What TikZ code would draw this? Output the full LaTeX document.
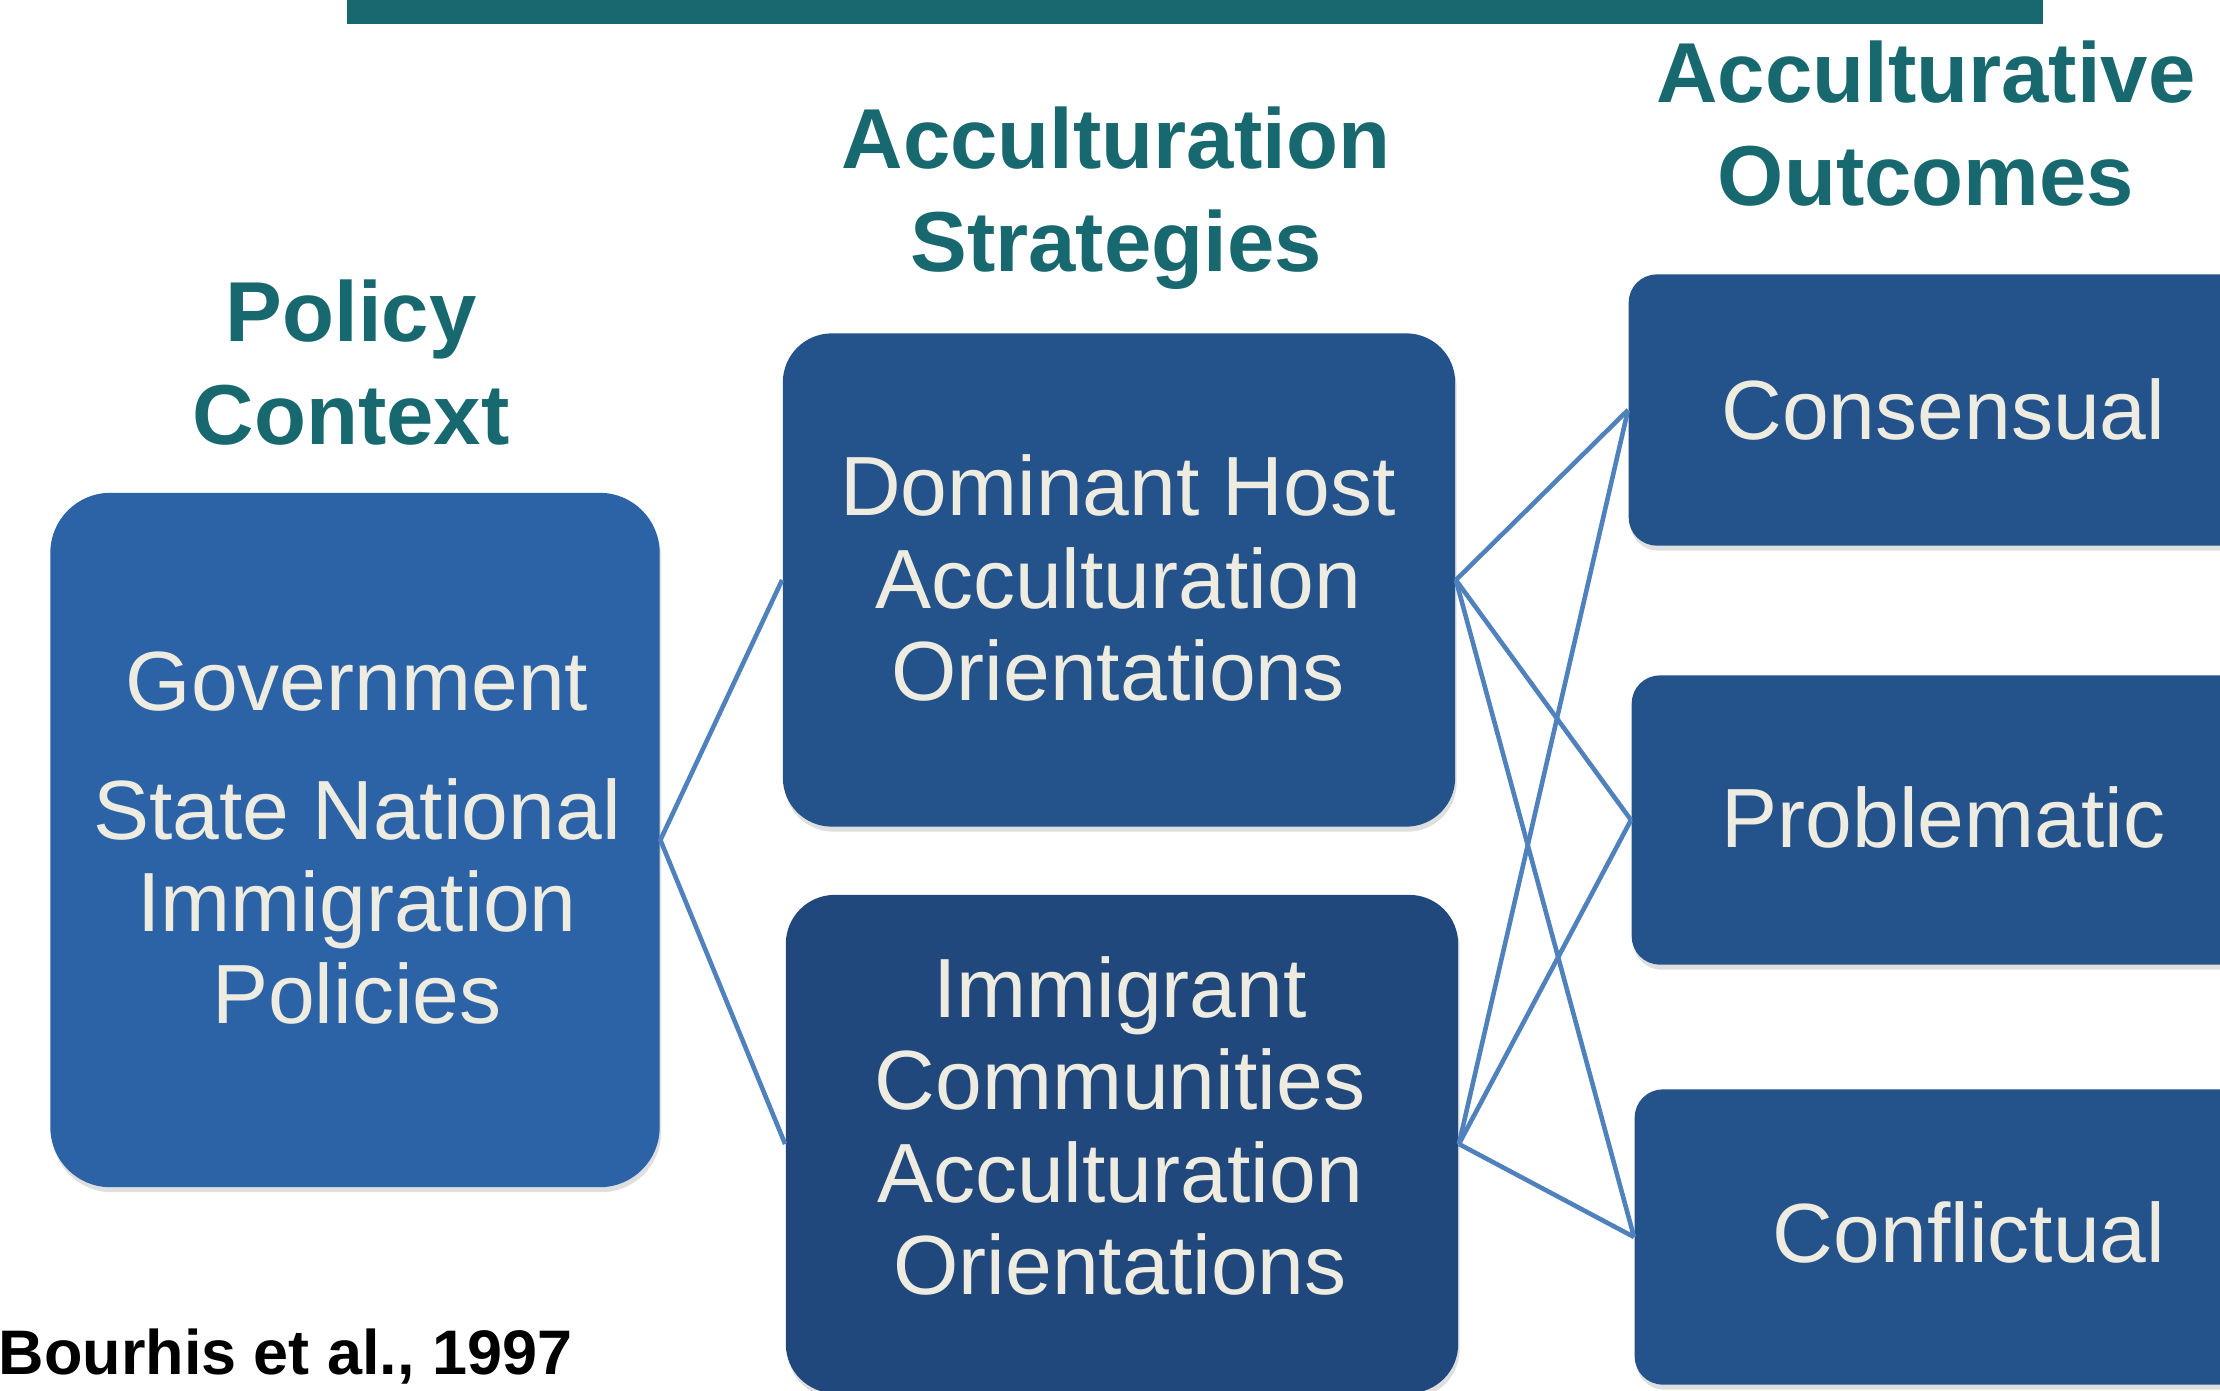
\documentclass[tikz,border=0pt]{standalone}
\usepackage{fontspec}
\setmainfont{Liberation Sans}
\usepackage{tikz}
\usetikzlibrary{shadows}

\definecolor{barteal}{HTML}{18696F}
\definecolor{policyblue}{HTML}{2C63A7}
\definecolor{hostblue}{HTML}{24528A}
\definecolor{migrantblue}{HTML}{21487C}
\definecolor{linkblue}{HTML}{4F81BD}
\definecolor{boxtext}{HTML}{EEECE1}

\begin{document}
\begin{tikzpicture}[x=0.01cm,y=-0.01cm,
      box/.style={rounded corners=#1,inner sep=0pt,
            drop shadow={opacity=0.25,shadow xshift=0.015cm,shadow yshift=-0.05cm}},
      boxtxt/.style={text=boxtext,align=center,inner sep=0pt,
            font=\fontsize{23.9}{26.2}\selectfont},
      head/.style={text=barteal,align=center,inner sep=0pt,
            font=\bfseries\fontsize{24.2}{29.3}\selectfont},
      link/.style={linkblue,line width=1.3pt}]
                              % Frame
                              \useasboundingbox (0,0) rectangle (2220,1390);
                              \clip (0,0) rectangle (2220,1390);
                              \fill[white] (0,0) rectangle (2220,1390);

                              % Title bar
                              \fill[barteal] (347,0) rectangle (2043,24);

                              % Column headings
                              \node[head] (hpolicy) at (351,363) {Policy\\Context};
                              \node[head] (hstrat) at (1116,198) {Acculturation\\Strategies};
                              \node[head] (hout) at (1926,124) {Acculturative\\Outcomes};

                              % Boxes
                              \node[box=0.6cm,fill=policyblue,minimum width=6.09cm,
                                    minimum height=6.94cm] (policy) at (355,840) {};
                              \node[box=0.49cm,fill=hostblue,minimum width=6.72cm,
                                    minimum height=4.93cm] (host) at (1119,580) {};
                              \node[box=0.49cm,fill=migrantblue,minimum width=6.72cm,
                                    minimum height=4.98cm] (migrant) at (1122,1144) {};
                              \node[box=0.28cm,fill=hostblue,minimum width=7.72cm,
                                    minimum height=2.71cm,anchor=west] (cons) at (1628,410) {};
                              \node[box=0.28cm,fill=hostblue,minimum width=7.72cm,
                                    minimum height=2.89cm,anchor=west] (prob) at (1631,820) {};
                              \node[box=0.28cm,fill=hostblue,minimum width=7.72cm,
                                    minimum height=2.95cm,anchor=west] (conf) at (1634,1237) {};

                              % Box texts
                              \node[boxtxt] (tpolicy) at (357,838)
                                    {Government\\[0.37cm]State National\\Immigration\\Policies};
                              \node[boxtxt] (thost) at (1118,578)
                                    {Dominant Host\\Acculturation\\Orientations};
                              \node[boxtxt] (tmigrant) at (1120,1126)
                                    {Immigrant\\Communities\\Acculturation\\Orientations};
                              \node[boxtxt,anchor=east] (tcons) at (2166,409) {Consensual};
                              \node[boxtxt,anchor=east] (tprob) at (2166,817) {Problematic};
                              \node[boxtxt,anchor=east] (tconf) at (2166,1232) {Conflictual};

                              % Links
                              \draw[link] (host.west) -- (policy.east) -- (migrant.west);
                              \foreach \o in {cons,prob,conf}{
                                    \draw[link] (host.east) -- (\o.west);
                                    \draw[link] (migrant.east) -- (\o.west);
                              }

                              % Source
                              \node[anchor=west,inner sep=0pt,
                                    font=\bfseries\fontsize{17.9}{20}\selectfont] (src) at (-2,1357)
                                    {Bourhis et al., 1997};
                        \end{tikzpicture}
\end{document}
